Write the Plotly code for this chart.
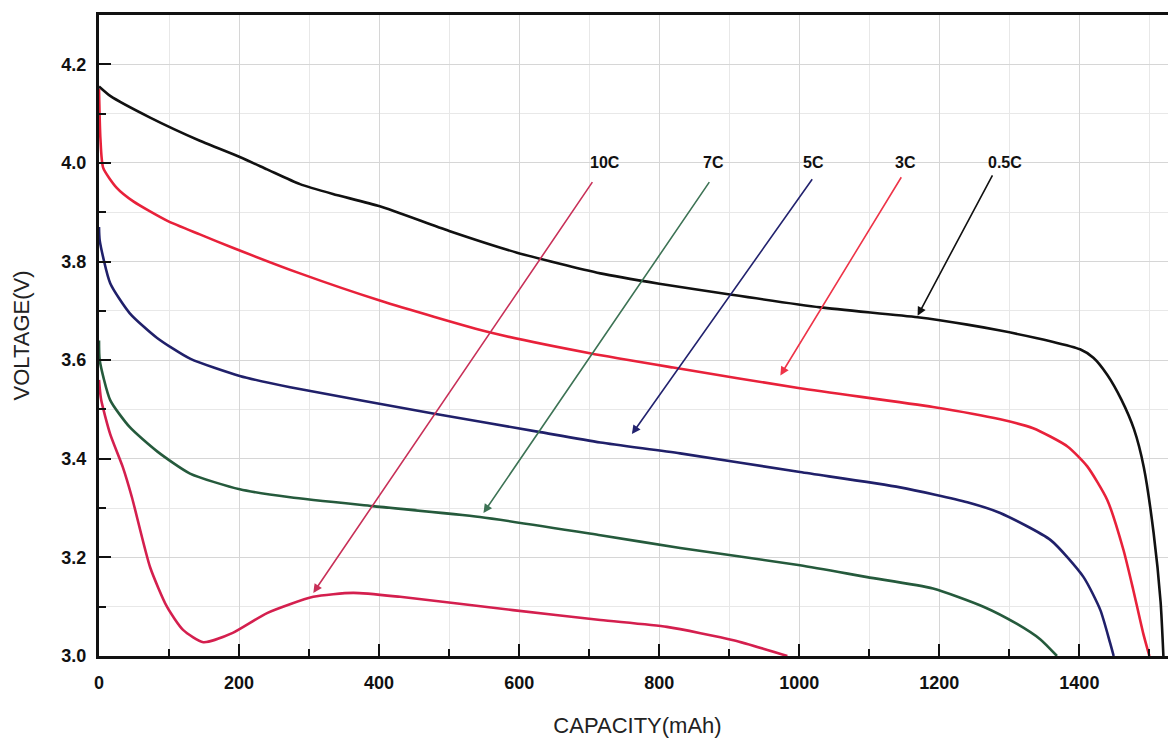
import plotly.graph_objects as go

# ---- data (capacity mAh, voltage V) ----
c05_x = [0, 16, 73, 144, 201, 240, 287, 334, 401, 500, 597, 716, 800, 901, 1030, 1169, 1240, 1287, 1360, 1401, 1420, 1440, 1460, 1478, 1492, 1506, 1516, 1520]
c05_y = [4.155, 4.136, 4.092, 4.045, 4.012, 3.987, 3.957, 3.937, 3.912, 3.862, 3.818, 3.776, 3.755, 3.733, 3.707, 3.687, 3.672, 3.66, 3.638, 3.622, 3.605, 3.57, 3.52, 3.46, 3.383, 3.25, 3.11, 3.0]

c3_x = [0, 2, 6, 25, 49, 97, 144, 191, 287, 401, 559, 701, 820, 1001, 1191, 1287, 1334, 1383, 1411, 1440, 1463, 1477, 1491, 1500]
c3_y = [4.15, 4.05, 3.99, 3.95, 3.922, 3.883, 3.855, 3.828, 3.776, 3.721, 3.656, 3.614, 3.585, 3.543, 3.505, 3.48, 3.462, 3.425, 3.385, 3.316, 3.215, 3.134, 3.047, 3.0]

c5_x = [0, 1, 16, 44, 83, 130, 201, 273, 477, 630, 716, 830, 1001, 1144, 1240, 1287, 1359, 1406, 1430, 1444, 1449]
c5_y = [3.87, 3.843, 3.756, 3.695, 3.645, 3.603, 3.568, 3.545, 3.492, 3.454, 3.433, 3.411, 3.373, 3.342, 3.312, 3.29, 3.235, 3.16, 3.093, 3.026, 3.0]

c7_x = [0, 1, 16, 44, 83, 130, 201, 273, 391, 544, 716, 830, 1001, 1097, 1191, 1263, 1311, 1344, 1368]
c7_y = [3.64, 3.6, 3.519, 3.464, 3.415, 3.37, 3.338, 3.322, 3.304, 3.282, 3.245, 3.219, 3.184, 3.16, 3.137, 3.1, 3.065, 3.034, 3.0]

c10_x = [0, 3, 16, 34, 47, 73, 97, 120, 149, 191, 240, 306, 363, 430, 591, 716, 811, 906, 983]
c10_y = [3.56, 3.52, 3.45, 3.383, 3.322, 3.18, 3.1, 3.053, 3.028, 3.047, 3.087, 3.12, 3.128, 3.12, 3.093, 3.073, 3.059, 3.032, 3.0]

series_names = ["0.5C", "3C", "5C", "7C", "10C"]
series_x = [c05_x, c3_x, c5_x, c7_x, c10_x]
series_y = [c05_y, c3_y, c5_y, c7_y, c10_y]
series_colors = ["#111111", "#e8213a", "#20206a", "#255a3c", "#d41f4e"]

# labels and arrows: label position, arrow tail, arrow tip
label_x = [1294, 1151, 1020, 877, 723]
label_y = [4.0, 4.0, 4.0, 4.0, 4.0]
tail_x = [1277, 1147, 1020, 873, 706]
tail_y = [3.978, 3.974, 3.97, 3.964, 3.964]
tip_x = [1169, 973, 761, 549, 306]
tip_y = [3.69, 3.569, 3.45, 3.29, 3.128]
arrow_colors = ["#111111", "#ee3448", "#22226e", "#3d7355", "#c83058"]

x_ticks = [0, 200, 400, 600, 800, 1000, 1200, 1400]
y_ticks = [3.0, 3.2, 3.4, 3.6, 3.8, 4.0, 4.2]

fig = go.Figure()
for name, xs, ys, col in zip(series_names, series_x, series_y, series_colors):
    fig.add_trace(go.Scatter(x=xs, y=ys, mode="lines", name=name,
                             line=dict(color=col, width=2.6, shape="spline", smoothing=0.6)))

for i, name in enumerate(series_names):
    fig.add_annotation(x=tip_x[i], y=tip_y[i], ax=tail_x[i], ay=tail_y[i],
                       xref="x", yref="y", axref="x", ayref="y", text="",
                       showarrow=True, arrowhead=2, arrowsize=1.1, arrowwidth=1.6,
                       arrowcolor=arrow_colors[i], standoff=0, startstandoff=0)
    fig.add_annotation(x=label_x[i], y=label_y[i], xref="x", yref="y", text=name,
                       showarrow=False, xanchor="center", yanchor="middle",
                       font=dict(family="Liberation Sans, Arial", size=16, color="#111111", weight="bold"))

axis_common = dict(
    showline=True, linecolor="#111111", linewidth=3,
    ticks="inside", ticklen=12, tickwidth=2, tickcolor="#111111",
    tickfont=dict(family="Liberation Sans, Arial", size=18, color="#111111", weight="bold"),
    showgrid=True, gridcolor="#d6d6d6", gridwidth=1, zeroline=False, automargin=False,
)

fig.update_xaxes(range=[0, 1538], tickvals=x_ticks, ticktext=[str(v) for v in x_ticks],
                 mirror=True, ticklabelstandoff=8,
                 minor=dict(dtick=100, ticks="inside", ticklen=7, tickwidth=2, tickcolor="#111111",
                            showgrid=True, gridcolor="#e8e8e8", gridwidth=1),
                 title=dict(text="CAPACITY(mAh)", standoff=30,
                            font=dict(family="Liberation Sans, Arial", size=22, color="#222222")),
                 **axis_common)
fig.update_yaxes(range=[3.0, 4.3], tickvals=y_ticks, ticktext=[f"{v:.1f}" for v in y_ticks],
                 ticklabelstandoff=6,
                 minor=dict(dtick=0.1, ticks="inside", ticklen=7, tickwidth=2, tickcolor="#111111",
                            showgrid=True, gridcolor="#e8e8e8", gridwidth=1),
                 title=dict(text="VOLTAGE(V)", standoff=26,
                            font=dict(family="Liberation Sans, Arial", size=22, color="#222222")),
                 **axis_common)

# page body has an 8px default margin; figure sized to fit the 1176x738 window
fig.update_layout(width=1168, height=730, margin=dict(l=91, r=0, t=7, b=82),
                  paper_bgcolor="white", plot_bgcolor="white", showlegend=False)

fig.write_html("out.html")
